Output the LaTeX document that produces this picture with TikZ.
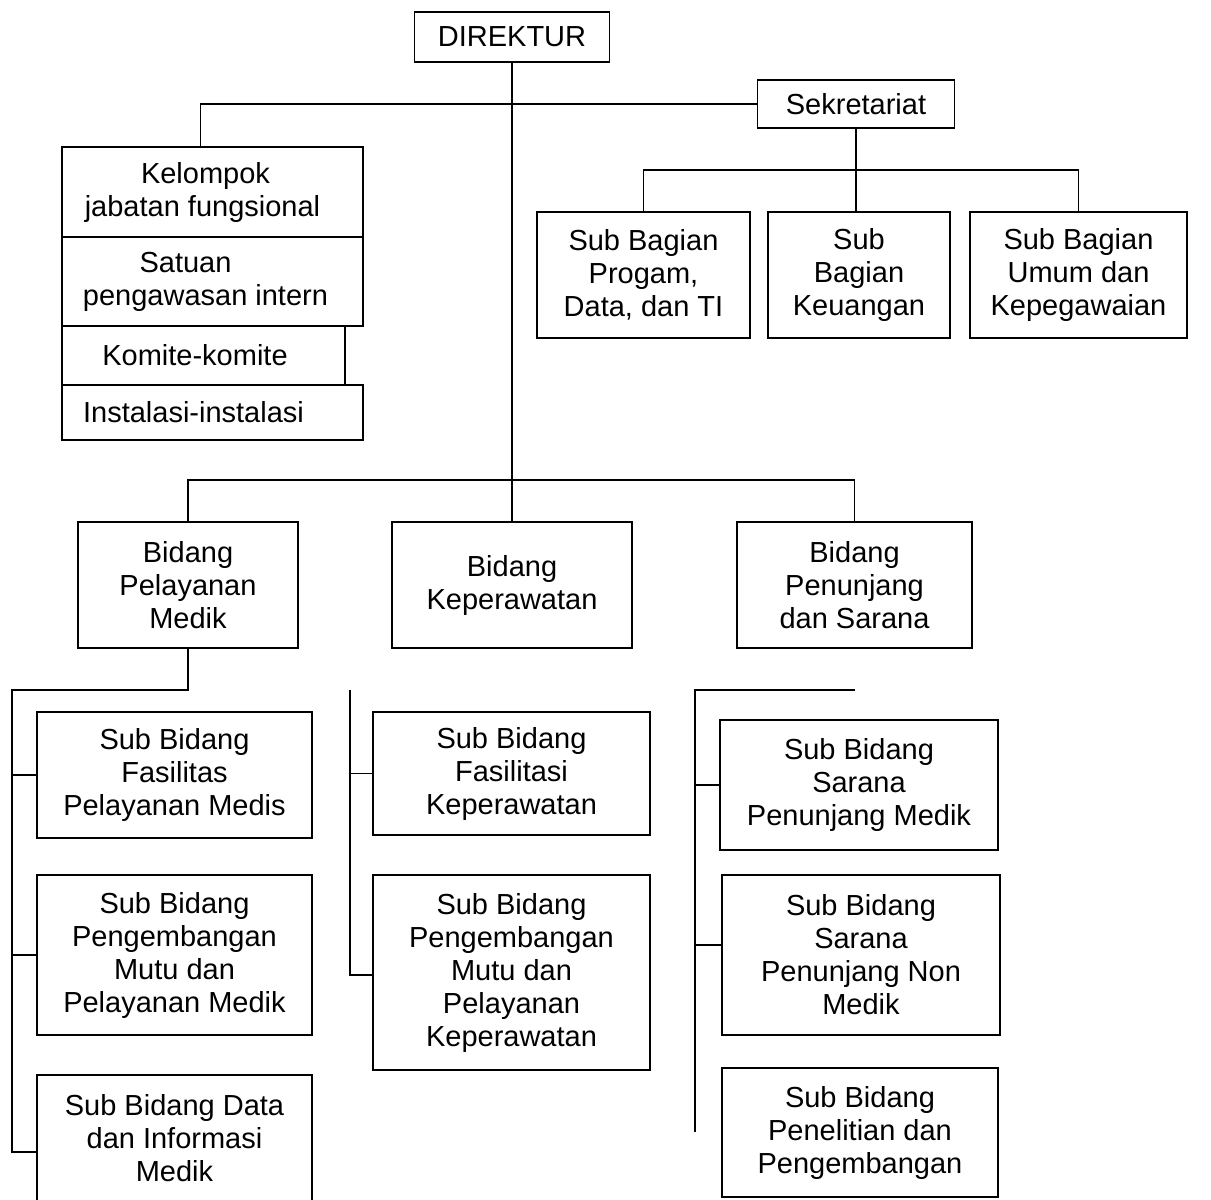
\documentclass[tikz,border=0pt]{standalone}
\usepackage{fontspec}
\setmainfont{Liberation Sans}
\usepackage{tikz}

\begin{document}
\begin{tikzpicture}[x=1pt, y=-1pt,
    unit/.style={draw, line width=1.9pt, align=center, inner sep=0pt,
                 font=\fontsize{29}{33}\selectfont},
    link/.style={line width=1.9pt}
  ]
  \useasboundingbox (0,0) rectangle (1211,1200);

  % Top level
  \node[unit, minimum width=195pt, minimum height=50pt] (dir) at (512,37)  {DIREKTUR};
  \node[unit, minimum width=197pt, minimum height=48pt] (sek) at (856,104) {Sekretariat};

  % Staff units
  \node[unit, minimum width=301pt, minimum height=90pt] (kjf) at (212.5,192)   {Kelompok\hspace*{14pt}\\jabatan fungsional\hspace*{20pt}};
  \node[unit, minimum width=301pt, minimum height=89pt] (spi) at (212.5,281.5) {Satuan\hspace*{54pt}\\pengawasan intern\hspace*{14pt}};
  \node[unit, minimum width=283pt, minimum height=59pt] (kom) at (203.5,355.5) {Komite-komite\hspace*{17pt}};
  \node[unit, minimum width=301pt, minimum height=55pt] (ins) at (212.5,412.5) {Instalasi-instalasi\hspace*{38pt}};

  % Secretariat sub-units
  \node[unit, minimum width=213pt, minimum height=126pt] (sbp) at (643.5,275)  {Sub Bagian\\Progam,\\Data, dan TI};
  \node[unit, minimum width=182pt, minimum height=126pt] (sbk) at (859,275)    {Sub\\Bagian\\Keuangan};
  \node[unit, minimum width=217pt, minimum height=126pt] (sbu) at (1078.5,275) {Sub Bagian\\Umum dan\\Kepegawaian};

  % Fields
  \node[unit, minimum width=220pt, minimum height=126pt] (bpm) at (188,585)   {Bidang\\Pelayanan\\Medik};
  \node[unit, minimum width=240pt, minimum height=126pt] (bkp) at (512,585)   {Bidang\\Keperawatan};
  \node[unit, minimum width=235pt, minimum height=126pt] (bps) at (854.5,585) {Bidang\\Penunjang\\dan Sarana};

  % Sub fields: Pelayanan Medik
  \node[unit, minimum width=275pt, minimum height=126pt] (sfm) at (174.5,775)  {Sub Bidang\\Fasilitas\\Pelayanan Medis};
  \node[unit, minimum width=275pt, minimum height=160pt] (spm) at (174.5,955)  {Sub Bidang\\Pengembangan\\Mutu dan\\Pelayanan Medik};
  \node[unit, minimum width=275pt, minimum height=126pt] (sdi) at (174.5,1138) {Sub Bidang Data\\dan Informasi\\Medik};

  % Sub fields: Keperawatan
  \node[unit, minimum width=277pt, minimum height=123pt] (sfk) at (511.5,773.5) {Sub Bidang\\Fasilitasi\\Keperawatan};
  \node[unit, minimum width=277pt, minimum height=195pt] (spk) at (511.5,972.5) {Sub Bidang\\Pengembangan\\Mutu dan\\Pelayanan\\Keperawatan};

  % Sub fields: Penunjang dan Sarana
  \node[unit, minimum width=278pt, minimum height=130pt] (ssm) at (859,785)    {Sub Bidang\\Sarana\\Penunjang Medik};
  \node[unit, minimum width=278pt, minimum height=160pt] (ssn) at (861,955)    {Sub Bidang\\Sarana\\Penunjang Non\\Medik};
  \node[unit, minimum width=276pt, minimum height=129pt] (spp) at (860,1132.5) {Sub Bidang\\Penelitian dan\\Pengembangan};

  % Edges: direktur
  \draw[link] (dir.south) -- (bkp.north);
  \draw[link] ([xshift=-12pt]kjf.north) |- (sek.west);
  \coordinate (dirbar) at (512,480);
  \draw[link] (bpm.north) |- (dirbar) -| (bps.north);

  % Edges: sekretariat
  \coordinate (sekbar) at (856,170);
  \draw[link] (sek.south) -- (sek.south |- sbk.north);
  \draw[link] (sbp.north) |- (sekbar) -| (sbu.north);

  % Edges: Pelayanan Medik
  \coordinate (pmtop) at (12,690);
  \coordinate (pmend) at (12,1152);
  \draw[link] (bpm.south) |- (pmtop) -- (pmend) -- (pmend -| sdi.west);
  \draw[link] (sfm.west) -- (sfm.west -| pmtop);
  \draw[link] (spm.west) -- (spm.west -| pmtop);

  % Edges: Keperawatan
  \coordinate (kptop) at (350,690);
  \coordinate (kpend) at (350,975);
  \draw[link] (kptop) -- (kpend) -- (kpend -| spk.west);
  \draw[link] (sfk.west) -- (sfk.west -| kptop);

  % Edges: Penunjang dan Sarana
  \coordinate (pstop) at (695,690);
  \coordinate (psend) at (695,1132);
  \draw[link] (bps.south |- pstop) -- (pstop) -- (psend);
  \draw[link] (ssm.west) -- (ssm.west -| pstop);
  \draw[link] ([yshift=10pt]ssn.west) -- ([yshift=10pt]ssn.west -| pstop);

\end{tikzpicture}
\end{document}
